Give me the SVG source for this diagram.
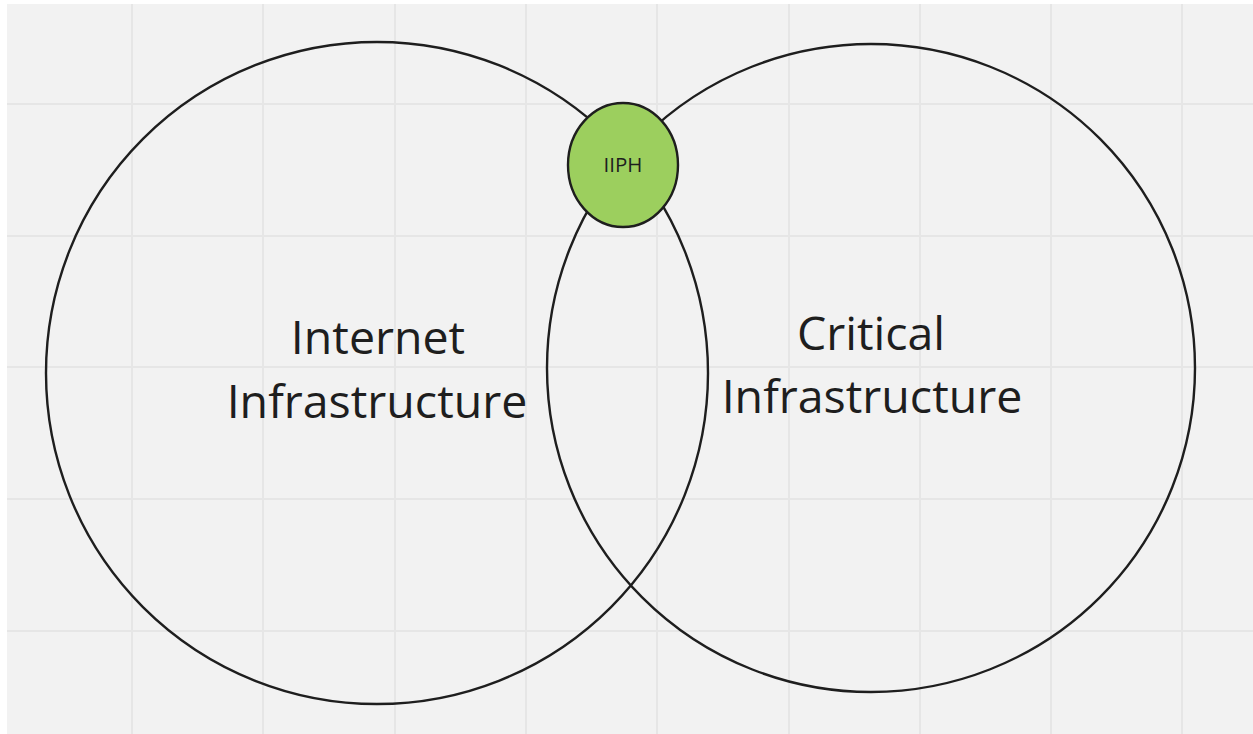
<svg xmlns="http://www.w3.org/2000/svg" width="1253" height="734" viewBox="0 0 1253 734">
<style>
.grid line{stroke:#e6e6e6;stroke-width:2}
.ring{fill:none;stroke:#1e1e1e;stroke-width:2.4}
.big{font-family:"Open Sans","Noto Sans",sans-serif;font-size:46.5px;fill:#1e1e1e;text-anchor:middle}
.small{font-family:"Open Sans","Noto Sans",sans-serif;font-size:20.5px;fill:#1e1e1e;text-anchor:middle}
</style>
<rect width="1253" height="734" fill="#ffffff"/>
<rect x="7" y="4" width="1246" height="730" fill="#f2f2f2"/>
<g class="grid">
<line x1="132" y1="4" x2="132" y2="734"/>
<line x1="263" y1="4" x2="263" y2="734"/>
<line x1="395" y1="4" x2="395" y2="734"/>
<line x1="526" y1="4" x2="526" y2="734"/>
<line x1="657" y1="4" x2="657" y2="734"/>
<line x1="789" y1="4" x2="789" y2="734"/>
<line x1="920" y1="4" x2="920" y2="734"/>
<line x1="1051" y1="4" x2="1051" y2="734"/>
<line x1="1182" y1="4" x2="1182" y2="734"/>
<line x1="7" y1="104" x2="1253" y2="104"/>
<line x1="7" y1="236" x2="1253" y2="236"/>
<line x1="7" y1="367" x2="1253" y2="367"/>
<line x1="7" y1="499" x2="1253" y2="499"/>
<line x1="7" y1="631" x2="1253" y2="631"/>
</g>
<g id="internet-infrastructure">
<ellipse class="ring" cx="377" cy="373" rx="331" ry="331"/>
<text class="big" x="378" y="354">Internet</text>
<text class="big" x="377" y="418">Infrastructure</text>
</g>
<g id="critical-infrastructure">
<ellipse class="ring" cx="871" cy="368" rx="324" ry="324"/>
<text class="big" x="871" y="350">Critical</text>
<text class="big" x="872" y="413">Infrastructure</text>
</g>
<g id="iiph">
<ellipse cx="623" cy="165" rx="55" ry="62" fill="#9ccf5e" stroke="#1e1e1e" stroke-width="2.4"/>
<text class="small" x="623" y="172">IIPH</text>
</g>
<g id="connectors"/>
</svg>
